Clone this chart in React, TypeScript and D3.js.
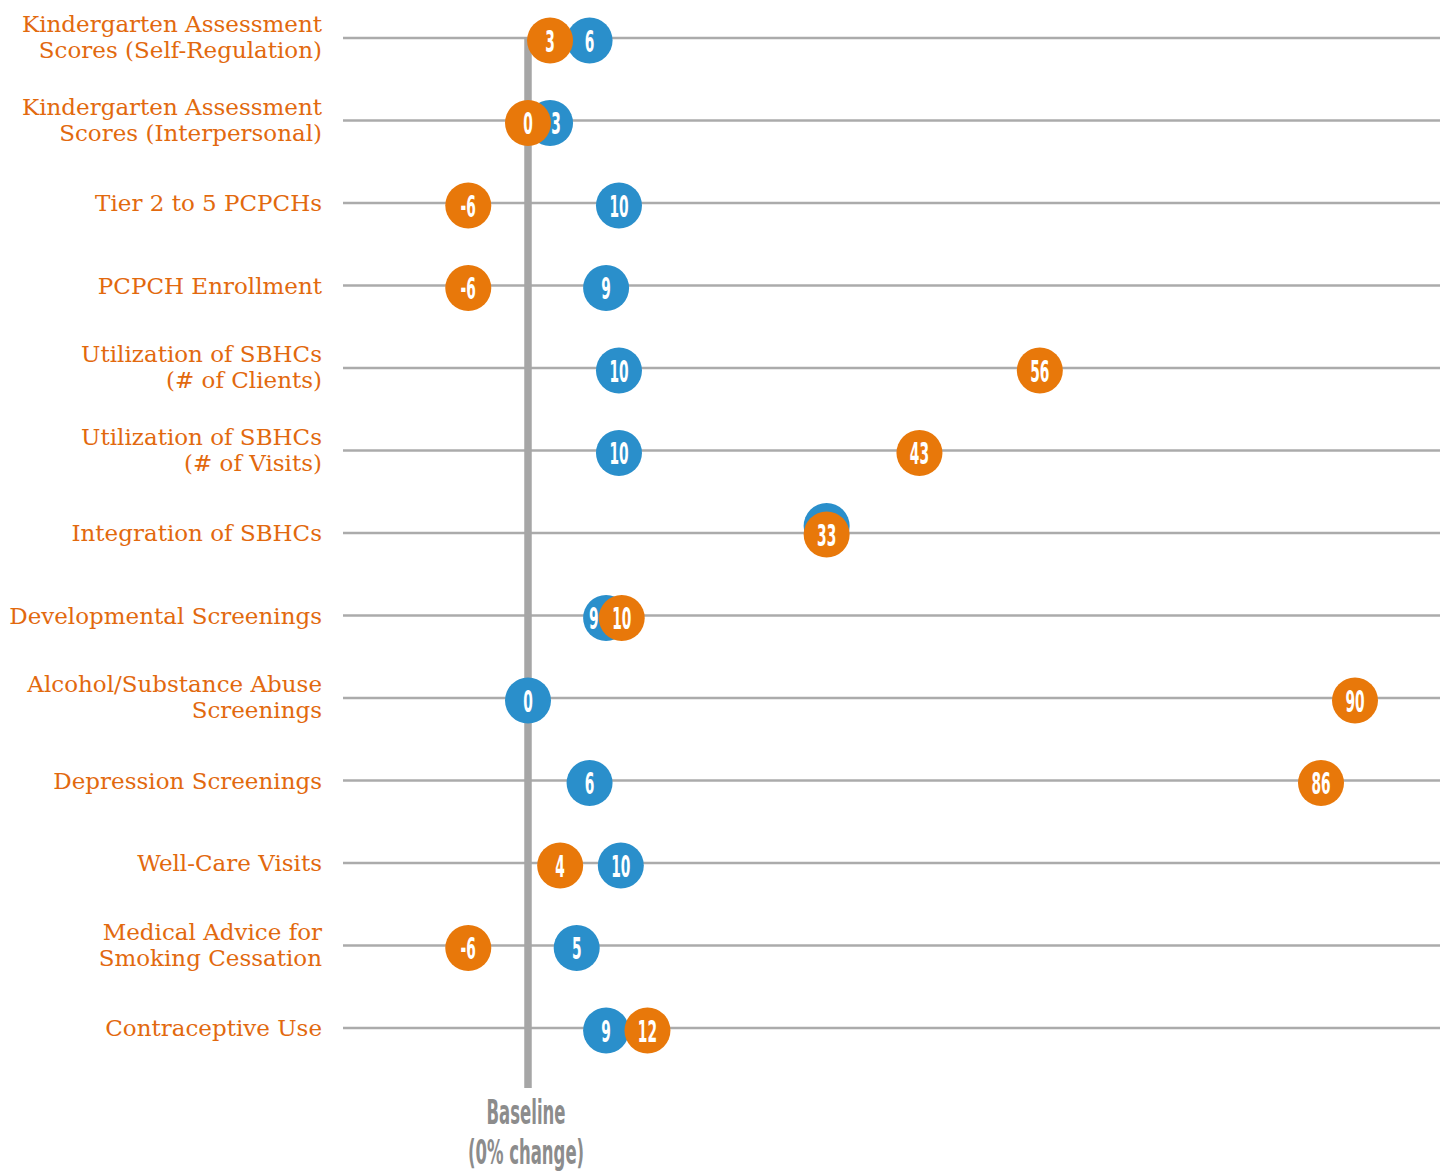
import React, { useRef, useEffect } from 'react';
import * as d3 from 'd3';

// row labels (line breaks as in the original)
const categories: string[][] = [
  ['Kindergarten Assessment', 'Scores (Self-Regulation)'],
  ['Kindergarten Assessment', 'Scores (Interpersonal)'],
  ['Tier 2 to 5 PCPCHs'],
  ['PCPCH Enrollment'],
  ['Utilization of SBHCs', '(# of Clients)'],
  ['Utilization of SBHCs', '(# of Visits)'],
  ['Integration of SBHCs'],
  ['Developmental Screenings'],
  ['Alcohol/Substance Abuse', 'Screenings'],
  ['Depression Screenings'],
  ['Well-Care Visits'],
  ['Medical Advice for', 'Smoking Cessation'],
  ['Contraceptive Use'],
];

// % change, as placed on the chart (unrounded estimates)
const blueValues = [6.7, 2.4, 9.9, 8.5, 9.9, 9.9, 32.5, 8.5, 0, 6.7, 10.1, 5.3, 8.5];
const orangeValues = [2.4, 0, -6.5, -6.5, 55.7, 42.6, 32.5, 10.2, 90, 86.3, 3.5, -6.5, 13];

// % change as printed in the dots
const blueLabels = [6, 3, 10, 9, 10, 10, 33, 9, 0, 6, 10, 5, 9];
const orangeLabels = [3, 0, -6, -6, 56, 43, 33, 10, 90, 86, 4, -6, 12];

const baselineLabel = ['Baseline', '(0% change)'];

const BLUE = '#2a8fcb';
const ORANGE = '#e8780a';
const LABEL = '#e2690e';
const GRID = '#ababab';

const App = () => {
  const svgRef = useRef<SVGSVGElement>(null);

  useEffect(() => {
    const width = 1445;
    const height = 1171;
    const svg = d3.select(svgRef.current);
    svg.selectAll('*').remove();
    svg.attr('width', width).attr('height', height);

    const x = d3.scaleLinear().domain([0, 90]).range([528, 1355]);
    const y = d3.scalePoint<number>()
      .domain(d3.range(categories.length))
      .range([38, 1028]);

    // horizontal row lines
    svg.append('g')
      .selectAll('line')
      .data(categories)
      .join('line')
      .attr('x1', 343)
      .attr('x2', 1440)
      .attr('y1', (_, i) => y(i)!)
      .attr('y2', (_, i) => y(i)!)
      .attr('stroke', GRID)
      .attr('stroke-width', 2.5);

    // baseline (0% change)
    svg.append('line')
      .attr('x1', x(0)).attr('x2', x(0))
      .attr('y1', y(0)! - 1).attr('y2', 1088)
      .attr('stroke', '#a6a6a6')
      .attr('stroke-width', 7.5);

    // row labels
    const labels = svg.append('g')
      .attr('font-family', '"DejaVu Serif", serif')
      .attr('font-size', 23)
      .attr('fill', LABEL)
      .attr('text-anchor', 'end');

    categories.forEach((lines, i) => {
      const t = labels.append('text').attr('x', 322);
      if (lines.length === 1) {
        t.append('tspan').attr('x', 322).attr('y', y(i)! + 8).text(lines[0]);
      } else {
        lines.forEach((l, j) => {
          t.append('tspan').attr('x', 322).attr('y', y(i)! - 6 + j * 26).text(l);
        });
      }
    });

    const same = (i: number) => blueLabels[i] === orangeLabels[i];

    // the blue dot sits underneath; push its number out from under the orange dot
    const blueTextX = (i: number) => {
      const b = x(blueValues[i]);
      const o = x(orangeValues[i]);
      const gap = b - o;
      if (same(i) || Math.abs(gap) >= 28) return b;
      return o + Math.sign(gap) * 28;
    };

    const drawDots = (
      values: number[],
      texts: number[],
      color: string,
      dy: (i: number) => number,
      tx: (i: number) => number
    ) => {
      const g = svg.append('g');
      g.selectAll('circle')
        .data(values)
        .join('circle')
        .attr('cx', d => x(d))
        .attr('cy', (_, i) => y(i)! + dy(i))
        .attr('r', 23)
        .attr('fill', color);
      g.selectAll('text')
        .data(texts)
        .join('text')
        .attr('transform', (_, i) => `translate(${tx(i)},${y(i)! + dy(i) + 11}) scale(0.46,1)`)
        .attr('text-anchor', 'middle')
        .attr('font-family', '"DejaVu Sans", sans-serif')
        .attr('font-weight', 'bold')
        .attr('font-size', 30)
        .attr('fill', '#fff')
        .text(d => String(d));
    };

    // blue first, orange drawn on top
    drawDots(blueValues, blueLabels, BLUE, i => (same(i) ? -7 : 2.5), blueTextX);
    drawDots(orangeValues, orangeLabels, ORANGE, i => (same(i) ? 1.5 : 2.5), i => x(orangeValues[i]));

    // baseline caption
    const cap = svg.append('g')
      .attr('transform', `translate(${x(0) - 2},0) scale(0.5,1)`)
      .attr('font-family', '"DejaVu Sans", sans-serif')
      .attr('font-weight', 'bold')
      .attr('font-size', 33)
      .attr('fill', '#8c8c8c')
      .attr('text-anchor', 'middle');
    baselineLabel.forEach((l, j) => {
      cap.append('text').attr('x', 0).attr('y', 1124 + j * 40).text(l);
    });
  }, []);

  return (
    <div style={{ position: 'absolute', left: 0, top: 0 }}>
      <svg ref={svgRef} style={{ display: 'block' }}></svg>
    </div>
  );
};

export default App;
